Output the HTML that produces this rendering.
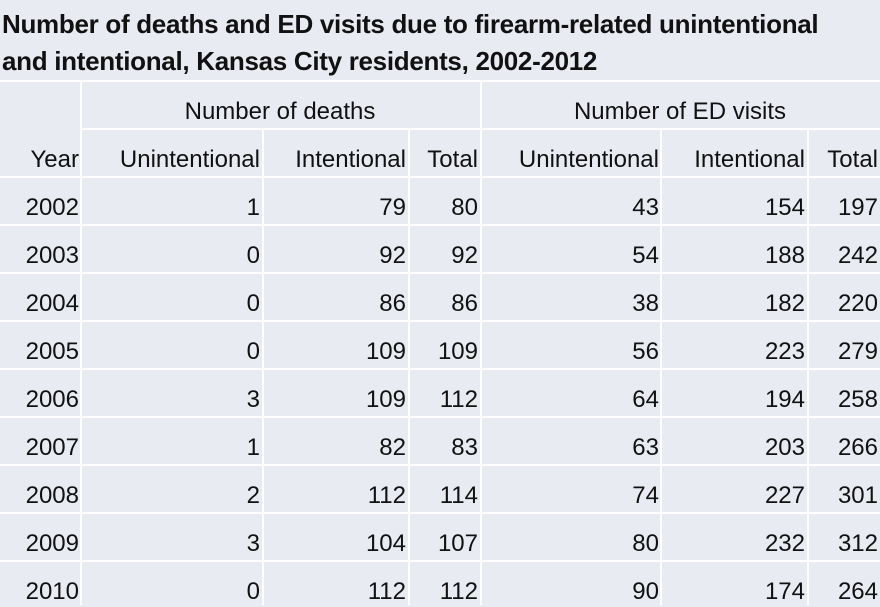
<!DOCTYPE html>
<html><head><meta charset="utf-8"><style>
body{margin:0;width:880px;height:605px;overflow:hidden;background:#e8ebf2;font-family:"Liberation Sans",sans-serif;color:#111;position:relative}
.t{position:absolute;left:2px;font-weight:bold;font-size:26px;white-space:nowrap;letter-spacing:-0.3px}
.h{position:absolute;background:#fff;height:1.5px}
.v{position:absolute;background:#fff;width:1.5px}
.c{position:absolute;font-size:24px;white-space:nowrap;text-align:right;line-height:30px}
</style></head><body>
<div class="t" style="top:9px">Number of deaths and ED visits due to firearm-related unintentional</div>
<div class="t" style="top:46px">and intentional, Kansas City residents, 2002-2012</div>
<div id="tbl"></div>
<script>
const years=["2002","2003","2004","2005","2006","2007","2008","2009","2010"];
const deathsUnint=[1,0,0,0,3,1,2,3,0];
const deathsInt=[79,92,86,109,109,82,112,104,112];
const deathsTotal=[80,92,86,109,112,83,114,107,112];
const edUnint=[43,54,38,56,64,63,74,80,90];
const edInt=[154,188,182,223,194,203,227,232,174];
const edTotal=[197,242,220,279,258,266,301,312,264];
const headers=["Year","Unintentional","Intentional","Total","Unintentional","Intentional","Total"];
const rights=[79,260,406,478,659,805,878];
const tbl=document.getElementById('tbl');
function add(cls,style,txt,name){const d=document.createElement('div');d.className=cls;d.style.cssText=style;if(txt!==undefined)d.textContent=txt;


tbl.appendChild(d);return d;}
for(let i=0;i<11;i++){const y=80+48*i;const x0=i==1?80:0;add('h',`top:${y}px;left:${x0}px;width:${880-x0}px`,undefined,'row-gridline');}
add('v','left:80px;top:80px;height:525px',undefined,'col-gridline');
add('v','left:480px;top:80px;height:525px',undefined,'col-gridline');
[262,408,660,807].forEach(x=>add('v',`left:${x}px;top:128px;height:477px`,undefined,'col-gridline'));
add('c','left:80px;width:400px;text-align:center;top:97px','Number of deaths','group-header-deaths');
add('c','left:480px;width:400px;text-align:center;top:97px','Number of ED visits','group-header-ed-visits');
headers.forEach((h,j)=>add('c',`right:${880-rights[j]}px;top:145px`,h,'column-header'));
const cols=[years,deathsUnint,deathsInt,deathsTotal,edUnint,edInt,edTotal];
for(let i=0;i<years.length;i++){cols.forEach((col,j)=>add('c',`right:${880-rights[j]}px;top:${193+48*i}px`,String(col[i]),'table-cell'));}
</script>
</body></html>
